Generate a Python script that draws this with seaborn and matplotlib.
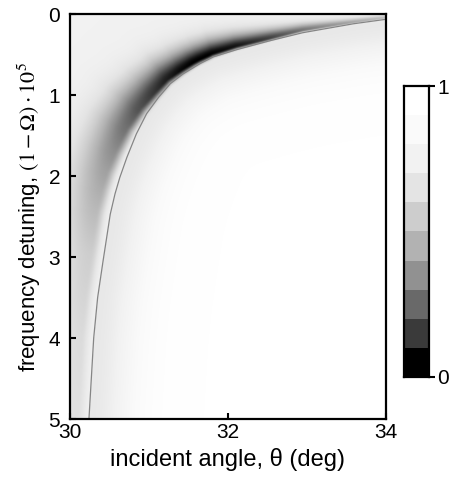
import numpy as np
import matplotlib
matplotlib.use("Agg")
import matplotlib.pyplot as plt
from matplotlib.colors import ListedColormap, LinearSegmentedColormap
import seaborn as sns

sns.set_style("ticks")
plt.rcParams['font.family'] = ['Liberation Sans', 'DejaVu Sans']
plt.rcParams['mathtext.fontset'] = 'stix'
for k in ['text.color', 'axes.labelcolor', 'xtick.color', 'ytick.color', 'axes.edgecolor']:
    plt.rcParams[k] = 'black'

# ---- datos ----
# curva de resonancia (theta en grados, desintonia)
curve_theta = [34.00, 33.59, 32.95, 32.53, 32.11, 31.81, 31.65, 31.43, 31.27, 31.12, 30.97,
               30.84, 30.72, 30.63, 30.57, 30.51, 30.42, 30.35, 30.30, 30.27, 30.24]
curve_y = [0.065, 0.12, 0.23, 0.33, 0.44, 0.53, 0.61, 0.74, 0.86, 1.03, 1.23,
           1.48, 1.77, 2.02, 2.22, 2.47, 3.04, 3.50, 4.00, 4.50, 5.00]

# valle oscuro a lo largo de la curva: profundidad, ancho y desplazamiento (px)
ridge_s = [0.065, 0.12, 0.23, 0.33, 0.44, 0.55, 0.65, 0.74, 0.86, 1.03, 1.23,
           1.48, 1.77, 2.0, 2.5, 3.0, 4.0, 5.0]
ridge_depth = [0.50, 0.59, 0.74, 0.87, 0.96, 1.00, 1.00, 0.98, 0.94, 0.89, 0.83,
               0.75, 0.67, 0.61, 0.51, 0.43, 0.36, 0.33]
ridge_width = [4, 5, 8, 11, 14, 17, 19, 21, 24, 28, 32, 36, 39, 41, 42, 42, 40, 40]
ridge_offset = [2, 2, 3, 3, 4, 4, 5, 5, 6, 7, 9, 12, 14, 15, 15, 14, 13, 12]

# niveles de gris de la barra de color (de 0 a 1)
level_gray = [0, 58, 105, 145, 178, 205, 228, 242, 250, 255]

x_ticks = [30, 32, 34]
y_ticks = [0, 1, 2, 3, 4, 5]
cbar_labels = ["1", "0"]

# ---- mapa de transmision ----
theta = np.linspace(30, 34, 320)
det = np.linspace(0, 5, 410)
T, D = np.meshgrid(theta, det)
PX = (T - 30) * 79
PY = D * 81

cx = (np.array(curve_theta) - 30) * 79
cy = np.array(curve_y) * 81
seg = np.hypot(np.diff(cx), np.diff(cy))
t = np.concatenate([[0], np.cumsum(seg)])
tt = np.linspace(0, t[-1], 900)
dxs = np.interp(tt, t, cx)
dys = np.interp(tt, t, cy)

best = np.full(T.shape, np.inf)
s = np.zeros(T.shape)
for xi, yi in zip(dxs, dys):
    d2 = (PX - xi) ** 2 + (PY - yi) ** 2
    m = d2 < best
    best[m] = d2[m]
    s[m] = yi / 81
dist = np.sqrt(best)
theta_c = np.interp(D, curve_y, curve_theta)
d = np.where(T < theta_c, dist, -dist)

A = np.interp(s, ridge_s, ridge_depth)
W = np.interp(s, ridge_s, ridge_width)
D0 = np.interp(s, ridge_s, ridge_offset)
u = d - D0
core = np.where(u >= 0, A / (1 + (u / W) ** 2), A * np.exp(-(u / (0.3 * W)) ** 2))
ped = np.where(d >= 0, 0.23 / (1 + (d / 500) ** 2), 0.30 * np.exp(-(d / 45) ** 2))
p = 4
dip = (core ** p + ped ** p) ** (1 / p)
v = np.clip(1 - dip, 0, 1)

grays = [(g / 255, g / 255, g / 255) for g in level_gray]
cmap_img = LinearSegmentedColormap.from_list("trans", list(zip(np.linspace(0, 1, 10), grays)), N=2048)
cmap_bar = ListedColormap(grays)

# ---- figura ----
fig = plt.figure(figsize=(4.53, 4.87), dpi=100)
ax = fig.add_axes([0.1545, 0.1396, 0.6976, 0.8316])
ax.imshow(v, extent=[30, 34, 5, 0], cmap=cmap_img, vmin=0, vmax=1,
          aspect='auto', interpolation='bilinear')
sns.lineplot(x=curve_theta, y=curve_y, sort=False, estimator=None,
             color='#858585', lw=0.9, ax=ax)
ax.set_xlim(30, 34)
ax.set_ylim(5, 0)
ax.set_xticks(x_ticks)
ax.set_yticks(y_ticks)
ax.tick_params(direction='in', length=4.5, width=1.5, labelsize=15, pad=3,
               top=False, right=False)
ax.tick_params(axis='y', pad=7)
for sp in ax.spines.values():
    sp.set_visible(True)
    sp.set_linewidth(1.6)
ax.set_xlabel("incident angle, θ (deg)", fontsize=17, labelpad=4)
ax.set_ylabel(r"frequency detuning, $(1 - \Omega)\cdot10^5$", fontsize=16, labelpad=4)

cax = fig.add_axes([0.8918, 0.2259, 0.0552, 0.5975])
bar = np.arange(10)[::-1].reshape(-1, 1)
sns.heatmap(bar, cmap=cmap_bar, vmin=-0.5, vmax=9.5, cbar=False, ax=cax)
cax.yaxis.tick_right()
cax.set_yticks([0, 10])
cax.set_yticklabels(cbar_labels, rotation=0, fontsize=15)
cax.set_xticks([])
cax.tick_params(axis='y', direction='out', length=4, width=1.5, pad=2)
for sp in cax.spines.values():
    sp.set_visible(True)
    sp.set_linewidth(1.6)

fig.savefig("out.png", dpi=100)
